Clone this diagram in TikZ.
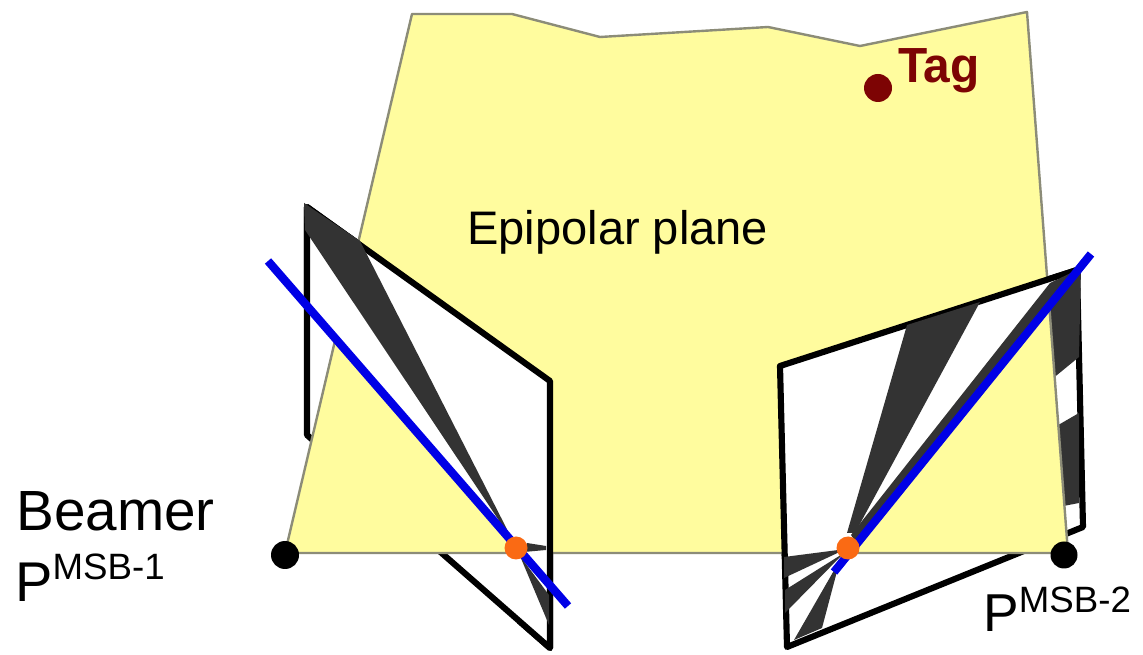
\documentclass[tikz,border=0pt]{standalone}
\usepackage{fontspec}
\setmainfont{Liberation Sans}
\definecolor{planeY}{HTML}{FFFC9E}
\definecolor{planeE}{HTML}{8C8C78}
\definecolor{wedgeD}{HTML}{333333}
\definecolor{lineB}{HTML}{0000E6}
\definecolor{epiO}{HTML}{FA6A14}
\definecolor{tagR}{HTML}{7D0404}
\tikzset{
  panelbox/.style={draw=black,fill=white,line width=4.6pt,line join=round},
  wedge/.style={fill=wedgeD,draw=none},
  planeshape/.style={fill=planeY,draw=planeE,line width=1.8pt,line join=round},
  epiline/.style={draw=lineB,line width=6.2pt},
  dot/.style={circle,inner sep=0pt,draw=none,minimum size=#1*0.75pt},
  lbl/.style={inner sep=0pt,anchor=base west},
}
\newcommand{\panelLeft}{%
  \draw[panelbox] (307,207) -- (550,381) -- (550,648) -- (307,435) -- cycle;
  \fill[wedge] (304,203) -- (360,241) -- (514,543) -- (305,230) -- cycle;
  \fill[wedge] (527,543) -- (546,546) -- (546,550) -- (524,552) -- cycle;
  \fill[wedge] (520,556) -- (549,595) -- (549,625) -- cycle;
}
\newcommand{\panelRight}{%
  \draw[panelbox] (780,366) -- (1077,270) -- (1083,527) -- (787,647) -- cycle;
  \fill[wedge] (907,325) -- (980,302) -- (855,533) -- (847,533) -- cycle;
  \fill[wedge] (1077,270) -- (1050,283) -- (851,535) -- (858,545) -- cycle;
  \fill[wedge] (846,548) -- (1075,268) -- (1081,268) -- (1079,357) -- cycle;
  \fill[wedge] (846,548) -- (1079,413) -- (1079,503) -- cycle;
  \fill[wedge] (846,549) -- (784,557) -- (784,578) -- cycle;
  \fill[wedge] (844,553) -- (785,590) -- (785,613) -- cycle;
  \fill[wedge] (840,560) -- (822,628) -- (794,640) -- cycle;
}
\begin{document}
\begin{tikzpicture}[x=0.75pt,y=-0.75pt]
\useasboundingbox (0,0) rectangle (1143,655);
\fill[white] (0,0) rectangle (1143,655);
\panelLeft
\panelRight
\draw[planeshape] (412,14) -- (512,14) -- (600,37) -- (768,27) -- (860,46) -- (1027,12) -- (1068,553) -- (285,553) -- cycle;
\begin{scope}
  \clip (295,195) -- (560,195) -- (560,655) -- (517,655) -- (517,553) -- (307,306) -- (295,292) -- cycle;
  \panelLeft
\end{scope}
\begin{scope}
  \clip (770,250) -- (1090,254) -- (848,556) -- (770,556) -- cycle;
  \panelRight
\end{scope}
\coordinate (la) at (268,261);
\coordinate (lb) at (568,606);
\coordinate (ra) at (1091,254);
\coordinate (rb) at (834,572);
\draw[epiline] (la) -- (lb);
\draw[epiline] (ra) -- (rb);
\node[dot=23,fill=epiO] (el) at (516,548) {};
\node[dot=23,fill=epiO] (er) at (848,548) {};
\node[dot=28,fill=black] (cl) at (285,555) {};
\node[dot=27,fill=black] (cr) at (1064,555) {};
\node[dot=28,fill=tagR] (tag) at (878,88) {};
\node[lbl,text=tagR,font=\fontsize{37}{40}\selectfont\bfseries] (tagl) at (898,83) {\scalebox{.97}[1]{Tag}};
\node[lbl,font=\fontsize{35.3}{40}\selectfont] (epi) at (467,245) {Epipolar plane};
\node[lbl,font=\fontsize{42.5}{46}\selectfont] (beam) at (16,531) {Beamer};
\node[lbl,font=\fontsize{42}{46}\selectfont] (pa) at (15,602) {P\raisebox{16.5pt}{\fontsize{27.5}{30}\selectfont MSB-1}};
\node[lbl,font=\fontsize{40}{44}\selectfont] (pb) at (983,632) {P\raisebox{14.5pt}{\fontsize{27.5}{30}\selectfont MSB-2}};
\end{tikzpicture}
\end{document}
